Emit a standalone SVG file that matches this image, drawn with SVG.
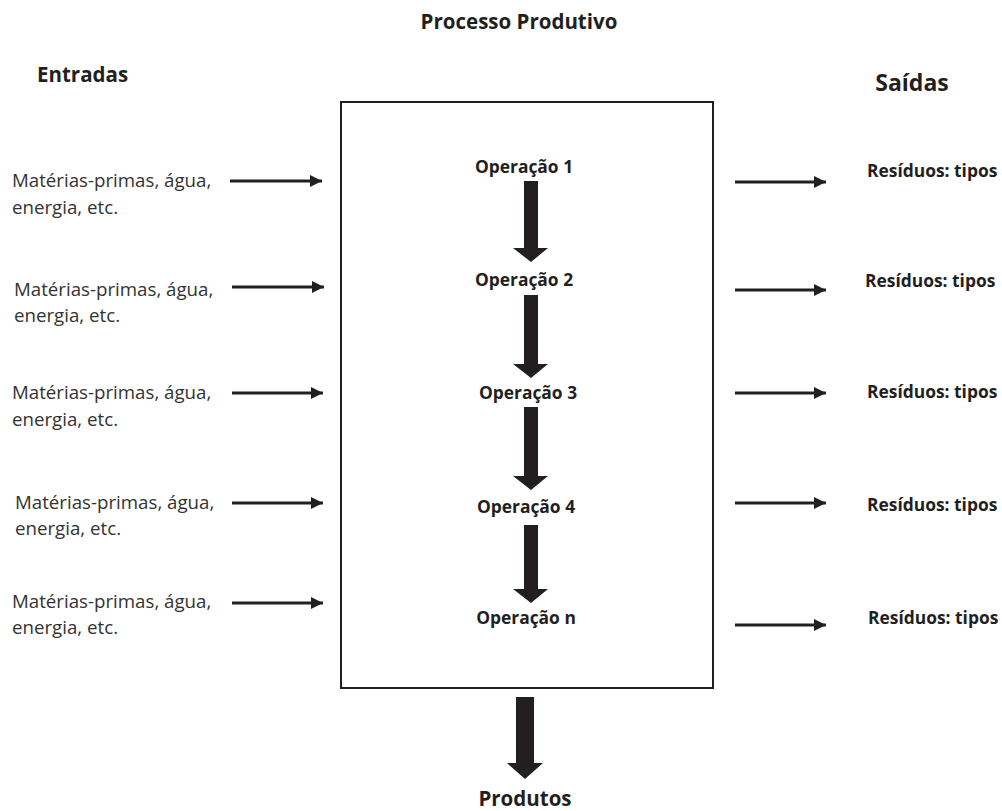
<svg xmlns="http://www.w3.org/2000/svg" width="1002" height="811" viewBox="0 0 1002 811">
<defs>
<style>
.t{font-family:"Open Sans","Liberation Sans",sans-serif;fill:#231f20}
.in{font-size:18.7px;fill:#333}
.op{font-size:17.4px;font-weight:bold;text-anchor:middle}
.res{font-size:17.4px;font-weight:bold}
.h{font-size:20.5px;font-weight:bold}
.ln{stroke:#231f20;stroke-width:3;fill:none}
.big{fill:#231f20}
</style>
<marker id="ah" markerUnits="userSpaceOnUse" markerWidth="12" markerHeight="12" refX="10" refY="5" orient="auto" viewBox="0 0 10 10">
<path d="M0,0 L10,5 L0,10 Z" fill="#231f20"/>
</marker>
</defs>
<rect width="1002" height="811" fill="#fff"/>
<text class="t h" x="519" y="29" text-anchor="middle">Processo Produtivo</text>
<text class="t h" x="37" y="82">Entradas</text>
<text class="t h" x="912" y="91" text-anchor="middle" style="font-size:23px">Saídas</text>

<g id="process">
<rect x="341" y="102" width="372" height="586" fill="none" stroke="#231f20" stroke-width="2"/>
</g>

<g id="op1"><text class="t op" x="524" y="173">Operação 1</text></g>
<g id="op2"><text class="t op" x="524" y="286">Operação 2</text></g>
<g id="op3"><text class="t op" x="528" y="399">Operação 3</text></g>
<g id="op4"><text class="t op" x="526" y="513">Operação 4</text></g>
<g id="opn"><text class="t op" x="526" y="624">Operação n</text></g>
<g id="produtos"><text class="t h" x="525" y="806" text-anchor="middle">Produtos</text></g>

<g id="in1"><text class="t in" x="12" y="187">Matérias-primas, água,</text><text class="t in" x="12" y="214">energia, etc.</text></g>
<g id="in2"><text class="t in" x="14" y="296">Matérias-primas, água,</text><text class="t in" x="14" y="322">energia, etc.</text></g>
<g id="in3"><text class="t in" x="12" y="399">Matérias-primas, água,</text><text class="t in" x="12" y="426">energia, etc.</text></g>
<g id="in4"><text class="t in" x="15" y="509">Matérias-primas, água,</text><text class="t in" x="15" y="535">energia, etc.</text></g>
<g id="in5"><text class="t in" x="12" y="608">Matérias-primas, água,</text><text class="t in" x="12" y="634">energia, etc.</text></g>

<g id="out1"><text class="t res" x="867" y="177">Resíduos: tipos</text></g>
<g id="out2"><text class="t res" x="865" y="287">Resíduos: tipos</text></g>
<g id="out3"><text class="t res" x="867" y="398">Resíduos: tipos</text></g>
<g id="out4"><text class="t res" x="867" y="511">Resíduos: tipos</text></g>
<g id="out5"><text class="t res" x="868" y="624">Resíduos: tipos</text></g>

<g id="connectors">
<line class="ln" x1="230" y1="181" x2="322" y2="181" marker-end="url(#ah)"/>
<line class="ln" x1="232" y1="287" x2="324" y2="287" marker-end="url(#ah)"/>
<line class="ln" x1="232" y1="393" x2="323" y2="393" marker-end="url(#ah)"/>
<line class="ln" x1="232" y1="503" x2="323" y2="503" marker-end="url(#ah)"/>
<line class="ln" x1="232" y1="603" x2="323" y2="603" marker-end="url(#ah)"/>

<line class="ln" x1="735" y1="182" x2="826" y2="182" marker-end="url(#ah)"/>
<line class="ln" x1="735" y1="290" x2="826" y2="290" marker-end="url(#ah)"/>
<line class="ln" x1="735" y1="393" x2="826" y2="393" marker-end="url(#ah)"/>
<line class="ln" x1="735" y1="503" x2="826" y2="503" marker-end="url(#ah)"/>
<line class="ln" x1="735" y1="625" x2="826" y2="625" marker-end="url(#ah)"/>

<path class="big" d="M524,181 H538 V248 H548 L531,262 L513,248 H524 Z"/>
<path class="big" d="M524,295 H538 V364 H548 L531,378 L513,364 H524 Z"/>
<path class="big" d="M524,407 H538 V476 H548 L531,490 L513,476 H524 Z"/>
<path class="big" d="M524,525 H538 V589 H548 L531,603 L513,589 H524 Z"/>
<path class="big" d="M516,697 H534 V763 H543 L525,779 L507,763 H516 Z"/>
</g>
</svg>
